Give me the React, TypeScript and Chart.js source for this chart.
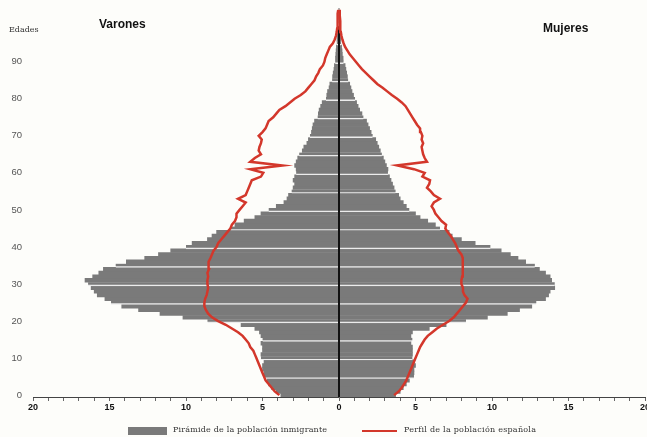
import React, { useEffect, useRef } from "react";
import { Chart, registerables } from "chart.js";

Chart.register(...registerables);

// Ages 0..104 (one bar per single year of age)
const ages: string[] = Array.from({ length: 105 }, (_, i) => String(i));
const yTickLabels = ["0", "10", "20", "30", "40", "50", "60", "70", "80", "90"];
const xTickLabels = [-20, -15, -10, -5, 0, 5, 10, 15, 20];

// Immigrant population pyramid (% by single age)
const maleImmigrant = [
  3.8, 4.1, 4.4, 4.6, 4.7, 4.9, 4.9, 5.0, 5.0, 4.9,
  5.1, 5.1, 5.0, 5.0, 5.1, 5.0, 5.1, 5.2, 5.5, 6.4,
  8.6, 10.2, 11.7, 13.1, 14.2, 14.9, 15.3, 15.8, 16.0, 16.2,
  16.4, 16.6, 16.1, 15.7, 15.4, 14.6, 13.9, 12.7, 11.8, 11.0,
  10.0, 9.6, 8.6, 8.3, 8.0, 7.1, 6.8, 6.2, 5.5, 5.1,
  4.6, 4.1, 3.6, 3.4, 3.3, 3.1, 3.0, 2.9, 3.0, 2.9,
  2.8, 2.8, 2.9, 2.8, 2.7, 2.6, 2.4, 2.3, 2.1, 2.0,
  1.9, 1.8, 1.75, 1.7, 1.6, 1.4, 1.35, 1.3, 1.2, 1.1,
  0.85, 0.8, 0.75, 0.65, 0.6, 0.45, 0.42, 0.38, 0.33, 0.3,
  0.25, 0.23, 0.21, 0.19, 0.17, 0.15, 0.13, 0.11, 0.09, 0.07,
  0, 0, 0, 0, 0,
];
const femaleImmigrant = [
  3.7, 4.0, 4.2, 4.4, 4.6, 4.9, 4.9, 4.9, 5.0, 4.9,
  4.8, 4.8, 4.8, 4.8, 4.7, 4.8, 4.7, 4.8, 5.9, 7.0,
  8.3, 9.7, 11.0, 11.8, 12.6, 12.9, 13.5, 13.7, 13.8, 14.1,
  14.1, 13.9, 13.8, 13.5, 13.1, 12.8, 12.2, 11.7, 11.2, 10.6,
  9.9, 8.9, 8.0, 7.4, 7.2, 6.6, 6.3, 5.8, 5.3, 5.0,
  4.6, 4.4, 4.2, 4.0, 3.9, 3.7, 3.6, 3.5, 3.4, 3.3,
  3.2, 3.2, 3.1, 3.0, 2.9, 2.8, 2.7, 2.6, 2.5, 2.4,
  2.2, 2.1, 2.0, 1.9, 1.8, 1.6, 1.5, 1.35, 1.25, 1.15,
  1.05, 0.95, 0.85, 0.78, 0.7, 0.6, 0.55, 0.5, 0.45, 0.4,
  0.3, 0.27, 0.22, 0.2, 0.17, 0.14, 0.12, 0.1, 0.08, 0.06,
  0, 0, 0, 0, 0,
];

// Spanish population profile (% by single age)
const maleSpanish = [
  3.9, 4.2, 4.4, 4.6, 4.8, 4.9, 5.0, 5.1, 5.2, 5.3,
  5.4, 5.5, 5.6, 5.8, 5.9, 6.1, 6.3, 6.6, 7.0, 7.4,
  7.9, 8.3, 8.55, 8.7, 8.8, 8.8, 8.75, 8.65, 8.6, 8.55,
  8.6, 8.6, 8.55, 8.6, 8.5, 8.55, 8.5, 8.4, 8.3, 8.2,
  8.0, 7.9, 7.7, 7.5, 7.3, 7.1, 7.0, 6.8, 6.7, 6.7,
  6.5, 6.3, 6.1, 6.6, 6.1, 6.0, 5.9, 5.8, 5.7, 5.1,
  4.95, 5.8, 3.7, 5.8, 5.5, 5.1, 5.25, 5.2, 5.1, 5.05,
  5.25, 5.0, 4.8, 4.7, 4.6, 4.3, 4.1, 3.9, 3.5, 3.2,
  2.9, 2.5, 2.2, 2.0, 1.8, 1.6, 1.5, 1.35, 1.25, 1.05,
  0.95, 0.9, 0.8, 0.7, 0.6, 0.4, 0.28, 0.2, 0.15, 0.12,
  0.1, 0.1, 0.08, 0.08, 0.05,
];
const femaleSpanish = [
  3.6, 3.9, 4.1, 4.25, 4.4, 4.5, 4.6, 4.7, 4.8, 4.9,
  5.0, 5.1, 5.2, 5.3, 5.45, 5.6, 5.8, 6.1, 6.4, 6.8,
  7.2, 7.5, 7.7, 7.9, 8.1, 8.3, 8.4, 8.2, 8.1, 8.1,
  8.0, 8.0, 8.05, 8.1, 8.05, 8.1, 8.1, 8.1, 8.0, 7.8,
  7.7, 7.6, 7.45, 7.3, 7.1, 6.95, 7.0, 6.7, 6.5, 6.3,
  6.2, 6.05, 6.2, 6.6, 6.2, 6.0, 5.75, 5.9, 5.95, 5.45,
  5.6, 4.9, 3.8, 5.75, 5.6, 5.5, 5.45, 5.4, 5.5, 5.4,
  5.45, 5.35, 5.3, 5.1, 4.95, 4.8, 4.65, 4.5, 4.35, 4.1,
  3.8, 3.45, 3.15, 2.85, 2.5, 2.25, 2.0, 1.75, 1.5, 1.3,
  1.1, 0.9, 0.7, 0.55, 0.4, 0.3, 0.22, 0.16, 0.12, 0.1,
  0.08, 0.07, 0.06, 0.05, 0.05,
];

const GRAY = "#7a7a7a";
const RED = "#d3372b";

const centerLine = {
  id: "centerLine",
  afterDatasetDraw(chart: any, args: any) {
    if (args.meta.type !== "bar") return;
    const { ctx, scales } = chart;
    const x = scales.x;
    const y = scales.y;
    let topIdx = 0;
    for (let i = 0; i < ages.length; i++) {
      if (maleImmigrant[i] > 0 || femaleImmigrant[i] > 0) topIdx = i;
    }
    const half = Math.abs(y.getPixelForValue(1) - y.getPixelForValue(0)) / 2;
    const x0 = x.getPixelForValue(0);
    const yTop = y.getPixelForValue(topIdx) - half;
    ctx.save();
    ctx.strokeStyle = "#111";
    ctx.lineWidth = 2;
    ctx.beginPath();
    ctx.moveTo(x0, yTop);
    ctx.lineTo(x0, chart.chartArea.bottom);
    ctx.stroke();
    ctx.restore();
  },
};

const sepWidth = (ctx: any) => {
  const age = Number(ages[ctx.dataIndex]);
  return age > 0 && age % 5 === 0 ? { top: 0, right: 0, bottom: 1.4, left: 0 } : 0;
};

export default function App() {
  const ref = useRef<HTMLCanvasElement | null>(null);

  useEffect(() => {
    if (!ref.current) return;
    const chart = new Chart(ref.current, {
      type: "bar",
      data: {
        labels: ages,
        datasets: [
          {
            type: "bar",
            label: "Varones inmigrantes",
            data: maleImmigrant.map((v) => -v),
            backgroundColor: GRAY,
            borderColor: "#ececec",
            borderWidth: sepWidth as any,
            borderSkipped: false,
            barPercentage: 1,
            categoryPercentage: 1,
            grouped: false,
            order: 2,
          } as any,
          {
            type: "bar",
            label: "Mujeres inmigrantes",
            data: femaleImmigrant,
            backgroundColor: GRAY,
            borderColor: "#ececec",
            borderWidth: sepWidth as any,
            borderSkipped: false,
            barPercentage: 1,
            categoryPercentage: 1,
            grouped: false,
            order: 2,
          } as any,
          {
            type: "line",
            label: "Varones españoles",
            data: maleSpanish.map((v) => -v),
            borderColor: RED,
            borderWidth: 2.5,
            pointRadius: 0,
            tension: 0,
            fill: false,
            order: 1,
          } as any,
          {
            type: "line",
            label: "Mujeres españolas",
            data: femaleSpanish,
            borderColor: RED,
            borderWidth: 2.5,
            pointRadius: 0,
            tension: 0,
            fill: false,
            order: 1,
          } as any,
        ],
      },
      options: {
        indexAxis: "y",
        animation: false,
        responsive: false,
        maintainAspectRatio: false,
        layout: { padding: { top: 8, right: 2, left: 0, bottom: 0 } },
        plugins: { legend: { display: false }, tooltip: { enabled: false } },
        scales: {
          x: {
            type: "linear",
            min: -20,
            max: 20,
            position: "bottom",
            ticks: {
              stepSize: 1,
              autoSkip: false,
              maxRotation: 0,
              maxTicksLimit: 100,
              padding: 1,
              color: "#111",
              font: { family: "'Liberation Sans', Arial, sans-serif", size: 9, weight: "bold" },
              callback: (v: any) =>
                xTickLabels.includes(Number(v)) ? String(Math.abs(Number(v))) : "",
            },
            grid: { drawOnChartArea: false, drawTicks: true, tickLength: 4, color: "#666" },
            border: { display: true, color: "#444", width: 1 },
            afterFit: (s: any) => {
              s.height = 40;
              s.paddingLeft = 0;
              s.paddingRight = 0;
            },
          },
          y: {
            type: "category",
            reverse: true,
            position: "left",
            ticks: {
              autoSkip: false,
              padding: 11,
              color: "#555",
              font: { family: "'Liberation Sans', Arial, sans-serif", size: 9.5 },
              callback: function (this: any, v: any) {
                const lab = this.getLabelForValue(v);
                return yTickLabels.includes(lab) ? lab : "";
              },
            },
            grid: { display: false, drawTicks: false },
            border: { display: false },
            afterFit: (s: any) => {
              s.width = 33;
              s.paddingTop = 0;
              s.paddingBottom = 0;
            },
          },
        },
      } as any,
      plugins: [centerLine],
    });
    return () => chart.destroy();
  }, []);

  const serif = "'DejaVu Serif', serif";
  const sans = "'Liberation Sans', Arial, sans-serif";

  return (
    <div
      style={{
        position: "absolute",
        left: 0,
        top: 0,
        width: 647,
        height: 437,
        overflow: "hidden",
        background: "#fdfdfa",
      }}
    >
      <canvas ref={ref} width={647} height={437} style={{ position: "absolute", left: 0, top: 0 }} />
      <div style={{ position: "absolute", left: 9, top: 26, font: `8px ${serif}`, lineHeight: "8px", color: "#333" }}>
        Edades
      </div>
      <div style={{ position: "absolute", left: 99, top: 18, font: `bold 12px ${sans}`, lineHeight: "12px", color: "#111" }}>
        Varones
      </div>
      <div style={{ position: "absolute", left: 543, top: 22, font: `bold 12px ${sans}`, lineHeight: "12px", color: "#111" }}>
        Mujeres
      </div>
      <div style={{ position: "absolute", left: 128, top: 427, width: 39, height: 8, background: GRAY }} />
      <div style={{ position: "absolute", left: 173, top: 426, font: `8px ${serif}`, lineHeight: "8px", letterSpacing: "0.18px", color: "#333", whiteSpace: "nowrap" }}>
        Pirámide de la población inmigrante
      </div>
      <div style={{ position: "absolute", left: 362, top: 430, width: 35, height: 2, background: RED }} />
      <div style={{ position: "absolute", left: 404, top: 426, font: `8px ${serif}`, lineHeight: "8px", letterSpacing: "0.25px", color: "#333", whiteSpace: "nowrap" }}>
        Perfil de la población española
      </div>
    </div>
  );
}
